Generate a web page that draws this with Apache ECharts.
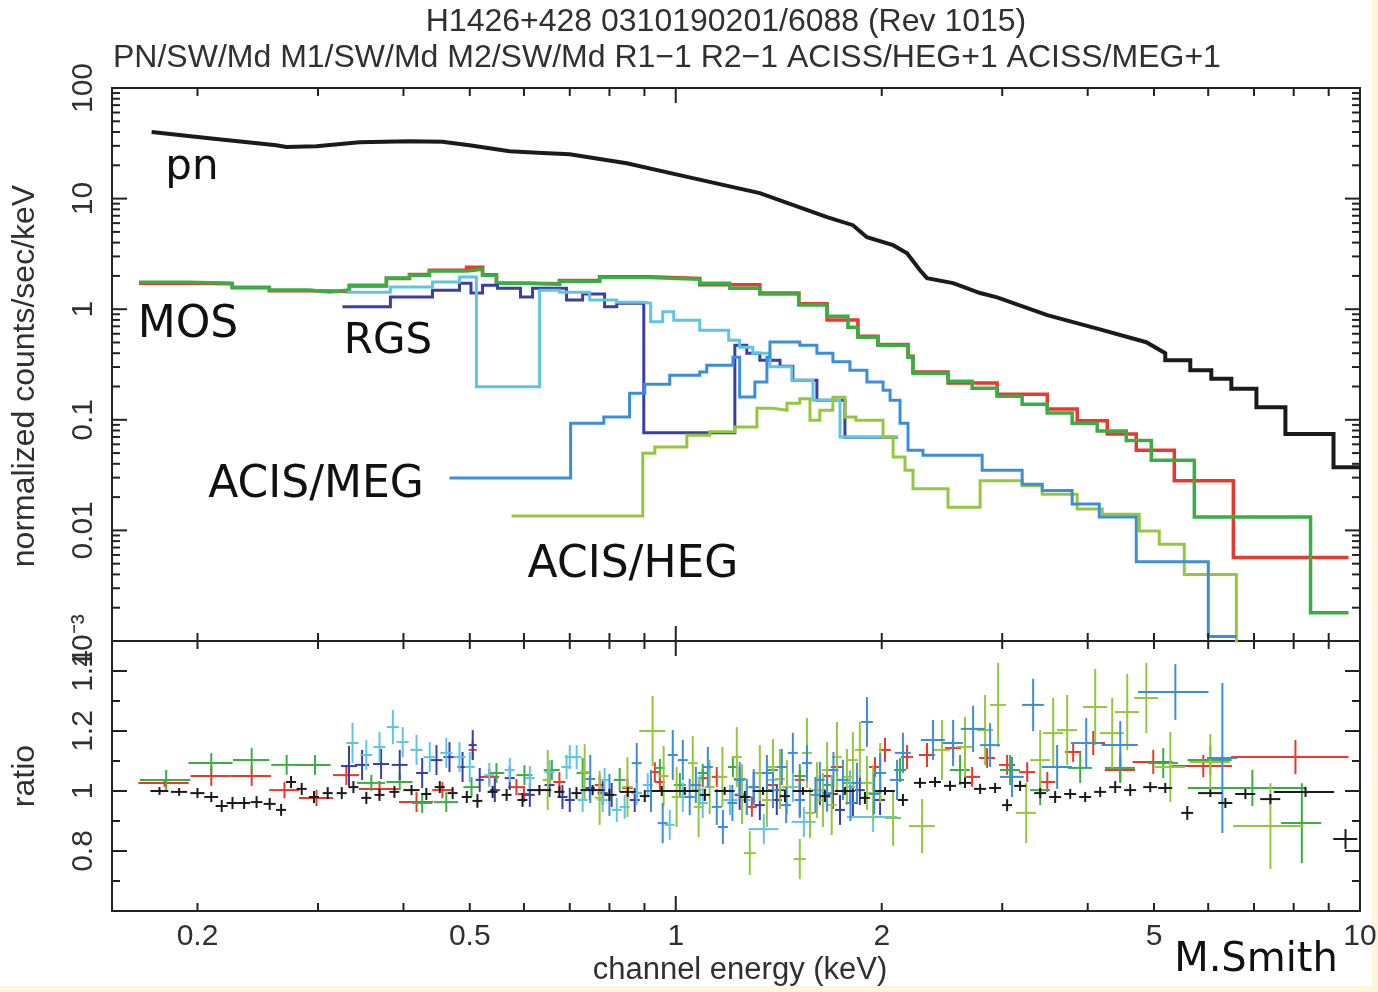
<!DOCTYPE html>
<html>
<head>
<meta charset="utf-8">
<title>H1426+428 spectra</title>
<script src="https://cdn.jsdelivr.net/npm/echarts@6.0.0/dist/echarts.min.js"></script>
<style>
html,body{margin:0;padding:0;background:#ffffff;}
#chart{width:1378px;height:992px;}
</style>
</head>
<body>
<div id="chart"></div>
<script>
// ---------------- tick values / labels ----------------
const xTickValues = [0.2,0.3,0.4,0.5,0.6,0.7,0.8,0.9,1,2,3,4,5,6,7,8,9,10];
const xMajorTicks = [1,10];
const xLabelValues = [0.2,0.5,1,2,5,10];
const xLabelTexts = ['0.2','0.5','1','2','5','10'];
const yTopMajor = [0.001,0.01,0.1,1,10,100];
const yTopMinor = [0.002,0.003,0.004,0.005,0.006,0.007,0.008,0.009,
  0.02,0.03,0.04,0.05,0.06,0.07,0.08,0.09,
  0.2,0.3,0.4,0.5,0.6,0.7,0.8,0.9,
  2,3,4,5,6,7,8,9,
  20,30,40,50,60,70,80,90];
const yTopLabelTexts = ['10\u207B\u00B3','0.01','0.1','1','10','100'];
const ratioMajor = [0.8,1,1.2,1.4];
const ratioMinor = [0.7,0.9,1.1,1.3];
const ratioLabelTexts = ['0.8','1','1.2','1.4'];

// ---------------- top panel: spectra (keV, counts/s/keV) ----------------
// pn: finely binned part (points) + coarse tail (bin edges / values)
const pnE = [0.1714,0.208,0.2607,0.2697,0.2985,0.3449,0.408,0.456,0.4995,0.5716,0.639,0.6995,0.848,1.059,1.327,1.664,1.815,1.903,2.078,2.178,2.275,2.329,2.543,2.785,2.949,3.491,4.13,4.872,5.193];
const pnV = [40.1,35.2,30.4,29.3,29.8,32.4,33.0,32.6,30.4,26.8,25.9,25.2,20.9,15.3,11.2,6.79,5.75,4.48,3.79,3.21,2.25,1.91,1.72,1.40,1.28,0.883,0.667,0.503,0.40];
const pnTailEdges = [5.193,5.649,6.063,6.486,7.057,7.78,9.147,10.0];
const pnTailV = [0.346,0.281,0.235,0.191,0.130,0.0746,0.0373];

const mos1Edges = [0.1643,0.1945,0.2248,0.2547,0.2914,0.3334,0.3777,0.4082,0.4365,0.4945,0.522,0.547,0.605,0.6763,0.774,0.916,1.084,1.327,1.513,1.664,1.846,1.975,2.185,2.222,2.50,2.949,3.491,3.861,4.272,4.710,5.353,6.53,9.621];
const mos1V = [1.72,1.70,1.56,1.47,1.45,1.62,1.89,2.06,2.25,2.40,2.05,1.72,1.70,1.82,1.97,1.90,1.66,1.40,1.12,0.80,0.57,0.48,0.375,0.27,0.215,0.17,0.125,0.098,0.0746,0.0531,0.0281,0.0057];

const mos2Edges = [0.1643,0.1945,0.2248,0.2547,0.2914,0.3117,0.3334,0.3777,0.4082,0.4365,0.4945,0.522,0.547,0.605,0.6763,0.774,0.916,1.084,1.1995,1.327,1.513,1.664,1.785,1.846,1.975,2.185,2.222,2.50,2.711,2.949,3.208,3.491,3.796,4.13,4.554,4.954,5.726,8.467,9.621];
const mos2V = [1.75,1.72,1.58,1.49,1.43,1.49,1.65,1.91,2.03,2.22,2.30,2.03,1.72,1.68,1.79,1.93,1.87,1.72,1.55,1.37,1.09,0.865,0.688,0.558,0.473,0.368,0.264,0.223,0.193,0.163,0.138,0.115,0.093,0.079,0.065,0.043,0.0132,0.0018];

const rgs1Edges = [0.3257,0.3828,0.441,0.483,0.502,0.522,0.549,0.593,0.6176,0.6925,0.731,0.787,0.820,0.898,1.220,1.270,1.327,1.420,1.483,1.608,1.767,2.113];
const rgs1V = [1.05,1.29,1.485,1.72,1.40,1.65,1.55,1.29,1.55,1.21,1.37,1.05,1.13,0.0764,0.473,0.40,0.346,0.305,0.228,0.15,0.0696];

const rgs2Edges = [0.3311,0.3828,0.441,0.483,0.5113,0.6324,0.6763,0.7485,0.820,0.898,0.919,0.957,0.9933,1.084,1.195,1.240,1.296,1.373,1.478,1.587,1.738,2.113];
const rgs2V = [1.42,1.59,1.765,1.96,0.199,1.485,1.42,1.21,1.157,1.13,0.769,0.95,0.795,0.646,0.525,0.453,0.40,0.301,0.228,0.150,0.070];

const hegEdges = [0.5755,0.895,0.932,1.038,1.121,1.220,1.314,1.387,1.454,1.518,1.571,1.624,1.697,1.767,1.834,2.009,2.078,2.163,2.222,2.50,2.785,3.208,3.432,3.861,4.201,4.758,5.089,5.536,6.597,8.18];
const hegV = [0.0135,0.0499,0.0569,0.0726,0.0778,0.0863,0.127,0.122,0.141,0.155,0.099,0.122,0.160,0.106,0.099,0.070,0.0462,0.035,0.0238,0.0162,0.0281,0.0254,0.0212,0.0156,0.0140,0.0099,0.0075,0.0040,0.0008];

const megEdges = [0.467,0.702,0.785,0.856,0.901,0.980,1.084,1.110,1.212,1.240,1.305,1.359,1.373,1.518,1.608,1.697,1.797,1.903,2.009,2.057,2.127,2.185,2.298,2.804,3.208,3.432,3.796,4.159,4.710,6.002,6.597];
const megV = [0.0298,0.0931,0.106,0.174,0.210,0.253,0.27,0.312,0.368,0.161,0.220,0.368,0.506,0.473,0.40,0.334,0.281,0.220,0.185,0.150,0.0931,0.0531,0.0479,0.035,0.0262,0.0229,0.0173,0.0132,0.0052,0.0011];

// ---------------- bottom panel: ratio points [E, dE, ratio, dRatio] ----------------
const pnRatio = [
[0.176,0.0053,1.000,0.013],[0.188,0.0051,0.997,0.013],[0.200,0.0047,0.993,0.017],[0.2095,0.0049,0.980,0.017],[0.217,0.0044,0.950,0.02],[0.225,0.0045,0.960,0.02],[0.234,0.0047,0.960,0.02],[0.244,0.0049,0.963,0.02],[0.255,0.0052,0.957,0.02],[0.265,0.0045,0.937,0.02],[0.274,0.0046,1.030,0.02],[0.284,0.0048,1.007,0.02],[0.296,0.0050,0.980,0.02],[0.310,0.0052,0.993,0.02],[0.325,0.0055,0.993,0.02],[0.338,0.0057,1.013,0.02],[0.353,0.0059,0.977,0.02],[0.369,0.0062,0.987,0.02],[0.388,0.0065,0.997,0.02],[0.411,0.0111,1.003,0.017],[0.432,0.0073,0.990,0.02],[0.452,0.0076,1.013,0.02],[0.472,0.0079,0.993,0.02],[0.495,0.0083,0.980,0.02],[0.513,0.0086,0.967,0.023],[0.540,0.0091,0.997,0.02],[0.566,0.0095,0.987,0.02],[0.597,0.010,0.970,0.023],[0.632,0.0256,1.003,0.017],[0.676,0.0114,0.997,0.02],[0.716,0.0121,0.993,0.02],[0.756,0.0306,1.003,0.017],[0.800,0.0135,0.987,0.02],[0.851,0.0229,0.997,0.017],[0.901,0.0152,0.983,0.02],[0.954,0.0321,1.000,0.017],[1.031,0.0486,1.000,0.013],[1.103,0.0186,0.987,0.02],[1.179,0.0397,1.000,0.013],[1.262,0.0213,0.980,0.02],[1.341,0.0452,1.000,0.013],[1.444,0.0243,0.983,0.02],[1.534,0.0517,1.000,0.013],[1.652,0.0278,0.983,0.02],[1.767,0.0595,1.000,0.013],[1.890,0.0318,0.977,0.02],[2.022,0.0681,1.000,0.013],[2.148,0.0362,0.970,0.02],[2.275,0.046,1.027,0.017],[2.393,0.0484,1.030,0.017],[2.517,0.0509,1.017,0.017],[2.647,0.0535,1.027,0.017],[2.785,0.0563,1.007,0.017],[2.929,0.0592,1.010,0.017],[3.050,0.0514,0.953,0.02],[3.186,0.0644,1.017,0.017],[3.409,0.0689,0.993,0.017],[3.585,0.0725,0.980,0.02],[3.771,0.0763,0.990,0.017],[3.966,0.0802,0.980,0.017],[4.172,0.0844,0.997,0.017],[4.388,0.0887,1.013,0.02],[4.615,0.0933,1.003,0.02],[4.937,0.116,1.013,0.017],[5.193,0.1225,1.010,0.017],[5.592,0.113,0.927,0.023],[6.043,0.244,0.993,0.013],[6.357,0.150,0.960,0.017],[6.800,0.229,0.990,0.017],[7.397,0.249,0.973,0.017],[8.325,0.842,0.997,0.017],[9.524,0.385,0.840,0.033]
];
const mos1Ratio = [
[0.179,0.0151,1.027,0.013],[0.2095,0.0141,1.050,0.033],[0.240,0.0162,1.050,0.033],[0.268,0.0135,1.003,0.027],[0.2985,0.0171,0.977,0.027],[0.330,0.0145,1.053,0.033],[0.369,0.0249,1.007,0.027],[0.418,0.0239,0.963,0.033],[0.456,0.0154,1.003,0.027],[0.505,0.0068,1.137,0.033],[0.534,0.018,1.047,0.027],[0.585,0.0158,1.013,0.027],[0.600,0.012,0.990,0.027],[0.676,0.0137,1.030,0.033],[0.774,0.013,1.020,0.033],[0.850,0.015,1.010,0.03],[0.932,0.0157,1.063,0.033],[0.948,0.016,1.030,0.03],[1.095,0.0185,1.043,0.03],[1.148,0.0193,1.047,0.033],[1.292,0.0218,0.947,0.033],[1.387,0.0234,1.020,0.03],[1.518,0.0256,1.037,0.033],[1.664,0.028,1.050,0.033],[1.720,0.0348,1.080,0.033],[1.955,0.0395,1.080,0.033],[2.022,0.0409,1.137,0.04],[2.178,0.044,1.113,0.04],[2.329,0.0628,1.120,0.04],[2.543,0.0686,1.143,0.033],[2.711,0.0731,1.047,0.033],[2.851,0.0769,1.110,0.033],[3.050,0.0822,1.087,0.033],[3.263,0.088,1.063,0.033],[3.491,0.0941,1.030,0.033],[3.809,0.1027,1.130,0.033],[4.075,0.165,1.160,0.04],[4.463,0.226,1.070,0.04],[4.987,0.336,1.097,0.04],[5.902,0.597,1.083,0.037],[8.047,1.573,1.113,0.057]
];
const mos2Ratio = [
[0.180,0.0152,1.037,0.033],[0.2095,0.0155,1.093,0.033],[0.240,0.0146,1.103,0.040],[0.270,0.0136,1.087,0.033],[0.297,0.016,1.087,0.033],[0.359,0.0169,1.027,0.027],[0.395,0.0173,1.030,0.027],[0.426,0.0144,0.960,0.033],[0.462,0.0187,0.963,0.033],[0.503,0.0136,1.013,0.033],[0.547,0.0147,1.060,0.033],[0.601,0.0162,1.053,0.033],[0.659,0.0178,1.070,0.033],[0.731,0.0148,1.060,0.05],[0.828,0.0167,1.037,0.04],[0.877,0.015,0.993,0.03],[0.948,0.016,1.077,0.03],[1.014,0.0205,1.020,0.04],[1.095,0.0185,1.060,0.03],[1.212,0.02,1.080,0.033],[1.240,0.0251,1.040,0.04],[1.387,0.0234,1.070,0.033],[1.518,0.0307,1.050,0.04],[1.664,0.028,1.020,0.033],[1.797,0.0363,1.027,0.04],[2.127,0.043,1.070,0.04],[2.603,0.0877,1.070,0.05],[3.081,0.104,1.070,0.05],[3.409,0.115,1.003,0.05],[3.900,0.158,1.077,0.05],[4.463,0.226,1.077,0.05],[5.158,0.261,1.093,0.05],[6.043,0.448,1.103,0.05],[6.962,1.361,1.010,0.06],[8.222,0.554,0.893,0.133]
];
const rgs1Ratio = [
[0.333,0.009,1.083,0.067],[0.348,0.0082,1.087,0.05],[0.371,0.010,1.090,0.05],[0.395,0.0106,1.087,0.05],[0.426,0.0086,1.060,0.05],[0.447,0.009,1.103,0.05],[0.467,0.0094,1.113,0.05],[0.488,0.0082,1.080,0.05],[0.505,0.0068,1.153,0.05],[0.517,0.007,1.037,0.04],[0.544,0.0092,1.003,0.04],[0.572,0.0096,1.043,0.04],[0.612,0.0103,0.987,0.04],[0.654,0.011,1.020,0.04],[0.683,0.0115,0.980,0.04],[0.700,0.0118,0.970,0.04],[0.749,0.0126,1.010,0.04],[0.782,0.0132,0.993,0.04],[0.806,0.0136,0.987,0.04],[0.871,0.0147,0.970,0.04],[1.240,0.0209,0.987,0.05],[1.300,0.022,1.013,0.05],[1.327,0.0224,0.953,0.05],[1.405,0.0237,0.970,0.05],[1.420,0.0239,1.003,0.05],[1.518,0.0256,0.970,0.05],[1.624,0.0274,1.003,0.05],[1.697,0.0286,0.990,0.05],[1.738,0.0293,0.937,0.05],[1.815,0.0306,0.960,0.05],[1.858,0.0313,1.003,0.05],[1.989,0.0335,0.970,0.05]
];
const rgs2Ratio = [
[0.337,0.0068,1.160,0.067],[0.353,0.0071,1.120,0.05],[0.369,0.0075,1.147,0.05],[0.386,0.0078,1.213,0.057],[0.399,0.0081,1.163,0.05],[0.418,0.0085,1.137,0.05],[0.437,0.0088,1.113,0.05],[0.462,0.0093,1.127,0.05],[0.483,0.0098,1.113,0.05],[0.500,0.0084,1.080,0.05],[0.534,0.009,1.053,0.04],[0.572,0.0096,1.070,0.04],[0.612,0.0103,1.043,0.04],[0.654,0.011,1.063,0.04],[0.6925,0.0117,1.080,0.04],[0.700,0.0118,1.113,0.04],[0.7164,0.0121,1.113,0.04],[0.731,0.0123,0.970,0.04],[0.7819,0.0132,0.970,0.04],[0.787,0.0133,1.037,0.04],[0.820,0.0138,0.937,0.04],[0.842,0.0142,0.947,0.04],[0.877,0.0148,0.993,0.04],[0.910,0.0153,1.020,0.04],[0.980,0.0165,0.887,0.05],[1.024,0.0172,0.980,0.05],[1.084,0.0219,1.003,0.05],[1.095,0.0185,0.960,0.05],[1.200,0.0323,0.970,0.05],[1.270,0.0214,0.970,0.05],[1.345,0.068,0.873,0.05],[1.387,0.0234,1.037,0.05],[1.483,0.025,1.013,0.05],[1.539,0.0622,0.897,0.05],[1.664,0.028,0.980,0.05],[1.797,0.0303,1.013,0.05],[1.943,0.164,0.913,0.05]
];
const hegRatio = [
[0.650,0.011,1.037,0.1],[0.736,0.0124,1.063,0.093],[0.774,0.013,0.977,0.09],[0.850,0.0143,1.013,0.1],[0.925,0.0405,1.200,0.117],[0.960,0.0162,1.050,0.1],[1.003,0.0169,0.980,0.1],[1.059,0.0178,1.093,0.09],[1.080,0.018,0.947,0.1],[1.121,0.0189,1.013,0.09],[1.170,0.0197,1.047,0.1],[1.228,0.0207,1.113,0.10],[1.250,0.021,0.990,0.1],[1.283,0.0259,0.793,0.073],[1.327,0.0224,1.060,0.093],[1.359,0.0229,0.970,0.09],[1.387,0.0234,1.080,0.093],[1.420,0.024,1.040,0.1],[1.454,0.0245,1.013,0.09],[1.518,0.0307,0.773,0.067],[1.555,0.0262,1.127,0.117],[1.571,0.0265,0.927,0.083],[1.608,0.0271,1.003,0.093],[1.641,0.0277,0.970,0.09],[1.664,0.028,1.070,0.093],[1.690,0.0285,0.953,0.1],[1.720,0.029,1.113,0.117],[1.779,0.030,1.047,0.093],[1.815,0.0306,1.103,0.093],[1.858,0.0313,1.137,0.093],[1.903,0.032,1.027,0.09],[1.943,0.0393,0.993,0.093],[1.990,0.0335,1.060,0.1],[2.078,0.056,0.910,0.093],[2.291,0.100,0.883,0.09],[2.450,0.066,1.137,0.10],[2.647,0.0714,1.147,0.10],[2.832,0.0764,1.203,0.117],[2.959,0.0798,1.287,0.14],[3.252,0.110,0.927,0.10],[3.409,0.115,1.103,0.10],[3.561,0.120,1.193,0.117],[3.733,0.126,1.203,0.117],[4.102,0.166,1.280,0.127],[4.344,0.176,1.193,0.117],[4.569,0.185,1.263,0.127],[4.872,0.197,1.310,0.117],[5.282,0.267,1.080,0.117],[6.043,0.407,1.097,0.093],[7.397,0.872,0.883,0.143]
];
const megRatio = [
[0.750,0.0126,1.040,0.08],[0.800,0.0135,0.987,0.07],[0.877,0.0148,1.093,0.067],[0.920,0.0155,1.000,0.07],[0.957,0.0161,0.893,0.067],[0.990,0.0167,1.120,0.083],[1.024,0.0173,1.103,0.067],[1.048,0.0177,0.980,0.06],[1.070,0.018,1.020,0.06],[1.114,0.0188,1.080,0.067],[1.148,0.0193,0.947,0.06],[1.172,0.0197,0.880,0.057],[1.210,0.02,0.960,0.06],[1.240,0.0209,1.037,0.06],[1.270,0.0214,0.980,0.06],[1.300,0.022,1.013,0.06],[1.359,0.0229,1.060,0.06],[1.387,0.0234,1.003,0.06],[1.429,0.0241,1.080,0.06],[1.450,0.0245,0.953,0.06],[1.483,0.025,1.127,0.067],[1.518,0.0256,0.970,0.06],[1.555,0.0262,1.093,0.06],[1.600,0.027,0.987,0.06],[1.624,0.0274,1.037,0.06],[1.664,0.028,0.993,0.06],[1.700,0.0287,1.070,0.06],[1.755,0.0355,1.037,0.067],[1.800,0.03,0.960,0.06],[1.840,0.031,1.027,0.067],[1.903,0.0385,1.230,0.083],[1.950,0.033,0.990,0.067],[1.989,0.0402,1.060,0.067],[2.106,0.0497,1.037,0.067],[2.148,0.0579,1.127,0.067],[2.377,0.0961,1.170,0.067],[2.543,0.0857,1.160,0.077],[2.720,0.110,1.207,0.077],[2.880,0.097,1.153,0.073],[3.101,0.125,1.047,0.067],[3.329,0.123,1.287,0.087],[3.609,0.182,1.080,0.073],[3.980,0.201,1.160,0.083],[4.463,0.271,1.153,0.08],[5.372,0.634,1.330,0.093],[6.293,0.318,1.110,0.25]
];

// ---------------- colours / fonts ----------------
const C_PN='#1b1b1b', C_M1='#e8392f', C_M2='#3aad45', C_R1='#3a3fa6', C_R2='#62c4e4', C_HEG='#95c73e', C_MEG='#3d8ed8';
const TXT='#303030';
const SANS='"Liberation Sans", Arial, Helvetica, sans-serif';
const HAND='"Comic Sans MS", "DejaVu Sans", sans-serif';

function steps(edges, vals){
  const out=[];
  for(let i=0;i<vals.length;i++){ out.push([edges[i],vals[i]]); out.push([edges[i+1],vals[i]]); }
  return out;
}
const pnLine = pnE.map((e,i)=>[e,pnV[i]]).concat(steps(pnTailEdges,pnTailV));

function lineSeries(name,data,color,width,z){
  return {name,type:'line',xAxisIndex:0,yAxisIndex:0,data,showSymbol:false,symbol:'none',
    lineStyle:{color,width,join:'miter'},itemStyle:{color},animation:false,silent:true,clip:true,z:z||2};
}
function crossSeries(name,data,color,width,z){
  return {name,type:'custom',xAxisIndex:1,yAxisIndex:1,data,encode:{x:0,y:2},animation:false,silent:true,z:z||3,
    renderItem:function(params,api){
      const E=api.value(0),dE=api.value(1),r=api.value(2),dr=api.value(3);
      const a=api.coord([E-dE,r]),b=api.coord([E+dE,r]),c=api.coord([E,r-dr]),d=api.coord([E,r+dr]);
      const st={stroke:color,lineWidth:width};
      return {type:'group',children:[
        {type:'line',shape:{x1:a[0],y1:a[1],x2:b[0],y2:b[1]},style:st},
        {type:'line',shape:{x1:c[0],y1:c[1],x2:d[0],y2:d[1]},style:st}]};
    }};
}
const tickStyle={stroke:'#222',lineWidth:2};
function xTickSeries(idx,yRef){
  return {type:'custom',xAxisIndex:idx,yAxisIndex:idx,silent:true,animation:false,z:6,
    data:xTickValues.map(v=>[v,yRef,xMajorTicks.indexOf(v)>=0?1:0]),encode:{x:0,y:1},
    renderItem:function(params,api){
      const p=api.coord([api.value(0),api.value(1)]);const cs=params.coordSys;
      const len=api.value(2)?15:8;const t=cs.y,b=cs.y+cs.height;
      return {type:'group',children:[
        {type:'line',shape:{x1:p[0],y1:b,x2:p[0],y2:b-len},style:tickStyle},
        {type:'line',shape:{x1:p[0],y1:t,x2:p[0],y2:t+len},style:tickStyle}]};
    }};
}
function yTickSeries(idx,xRef,vals,major){
  return {type:'custom',xAxisIndex:idx,yAxisIndex:idx,silent:true,animation:false,z:6,
    data:vals.map(v=>[xRef,v]),encode:{x:0,y:1},
    renderItem:function(params,api){
      const p=api.coord([api.value(0),api.value(1)]);const cs=params.coordSys;
      const len=major?15:8;const l=cs.x,r=cs.x+cs.width;
      return {type:'group',children:[
        {type:'line',shape:{x1:l,y1:p[1],x2:l+len,y2:p[1]},style:tickStyle},
        {type:'line',shape:{x1:r,y1:p[1],x2:r-len,y2:p[1]},style:tickStyle}]};
    }};
}
function yLabelSeries(idx,xRef,vals,texts){
  return {type:'custom',xAxisIndex:idx,yAxisIndex:idx,silent:true,animation:false,z:6,
    data:vals.map(v=>[xRef,v]),encode:{x:0,y:1},
    renderItem:function(params,api){
      const p=api.coord([api.value(0),api.value(1)]);const cs=params.coordSys;
      return {type:'text',x:cs.x-28,y:p[1],rotation:Math.PI/2,
        style:{text:texts[params.dataIndex],font:'30px '+SANS,fill:TXT,align:'center',verticalAlign:'middle'}};
    }};
}
const xLabelSeries={type:'custom',xAxisIndex:1,yAxisIndex:1,silent:true,animation:false,z:6,
  data:xLabelValues.map(v=>[v,1]),encode:{x:0,y:1},
  renderItem:function(params,api){
    const p=api.coord([api.value(0),api.value(1)]);const cs=params.coordSys;
    return {type:'text',x:p[0],y:cs.y+cs.height+26,
      style:{text:xLabelTexts[params.dataIndex],font:'30px '+SANS,fill:TXT,align:'center',verticalAlign:'middle'}};
  }};

const hidden={axisLine:{show:false},axisTick:{show:false},axisLabel:{show:false},splitLine:{show:false}};
const option={
  backgroundColor:'#ffffff',
  animation:false,
  grid:[
    {left:112,right:18,top:88,height:553,show:true,borderColor:'#222',borderWidth:2,backgroundColor:'transparent'},
    {left:112,right:18,top:641,height:270,show:true,borderColor:'#222',borderWidth:2,backgroundColor:'transparent'}
  ],
  xAxis:[
    Object.assign({type:'log',logBase:10,min:0.15,max:10,gridIndex:0},hidden),
    Object.assign({type:'log',logBase:10,min:0.15,max:10,gridIndex:1},hidden)
  ],
  yAxis:[
    Object.assign({type:'log',logBase:10,min:0.001,max:100,gridIndex:0},hidden),
    Object.assign({type:'value',min:0.6,max:1.5,gridIndex:1},hidden)
  ],
  series:[
    lineSeries('MOS1',steps(mos1Edges,mos1V),C_M1,3.5,2),
    lineSeries('MOS2',steps(mos2Edges,mos2V),C_M2,3.5,2),
    lineSeries('RGS1',steps(rgs1Edges,rgs1V),C_R1,3,2),
    lineSeries('RGS2',steps(rgs2Edges,rgs2V),C_R2,3,2),
    lineSeries('HEG',steps(hegEdges,hegV),C_HEG,3,2),
    lineSeries('MEG',steps(megEdges,megV),C_MEG,3,2),
    lineSeries('pn',pnLine,C_PN,4,2),
    crossSeries('MOS1 ratio',mos1Ratio,C_M1,2,3),
    crossSeries('MOS2 ratio',mos2Ratio,C_M2,2,3),
    crossSeries('RGS1 ratio',rgs1Ratio,C_R1,2,3),
    crossSeries('RGS2 ratio',rgs2Ratio,C_R2,2,3),
    crossSeries('HEG ratio',hegRatio,C_HEG,2,3),
    crossSeries('MEG ratio',megRatio,C_MEG,2,3),
    crossSeries('pn ratio',pnRatio,C_PN,2,4),
    xTickSeries(0,1),
    xTickSeries(1,1),
    yTickSeries(0,1,yTopMajor,true),
    yTickSeries(0,1,yTopMinor,false),
    yTickSeries(1,1,ratioMajor,true),
    yTickSeries(1,1,ratioMinor,false),
    yLabelSeries(0,1,yTopMajor,yTopLabelTexts),
    yLabelSeries(1,1,ratioMajor,ratioLabelTexts),
    xLabelSeries
  ],
  graphic:[
    {type:'text',x:726,y:22,style:{text:'H1426+428 0310190201/6088 (Rev 1015)',font:'32px '+SANS,fill:TXT,align:'center',verticalAlign:'middle'}},
    {type:'text',x:113,y:58,style:{text:'PN/SW/Md M1/SW/Md M2/SW/Md R1\u22121 R2\u22121 ACISS/HEG+1 ACISS/MEG+1',font:'32px '+SANS,fill:TXT,align:'left',verticalAlign:'middle'}},
    {type:'text',x:25,y:376,rotation:Math.PI/2,style:{text:'normalized counts/sec/keV',font:'32px '+SANS,fill:TXT,align:'center',verticalAlign:'middle'}},
    {type:'text',x:25,y:776,rotation:Math.PI/2,style:{text:'ratio',font:'32px '+SANS,fill:TXT,align:'center',verticalAlign:'middle'}},
    {type:'text',x:740,y:970,style:{text:'channel energy (keV)',font:'31px '+SANS,fill:TXT,align:'center',verticalAlign:'middle'}},
    {type:'text',x:192,y:168,style:{text:'pn',font:'42px '+HAND,fill:'#111',align:'center',verticalAlign:'middle'}},
    {type:'text',x:188,y:326,style:{text:'MOS',font:'44px '+HAND,fill:'#111',align:'center',verticalAlign:'middle'}},
    {type:'text',x:388,y:342,style:{text:'RGS',font:'42px '+HAND,fill:'#111',align:'center',verticalAlign:'middle'}},
    {type:'text',x:316,y:486,style:{text:'ACIS/MEG',font:'44px '+HAND,fill:'#111',align:'center',verticalAlign:'middle'}},
    {type:'text',x:633,y:566,style:{text:'ACIS/HEG',font:'44px '+HAND,fill:'#111',align:'center',verticalAlign:'middle'}},
    {type:'text',x:1256,y:961,style:{text:'M.Smith',font:'40px '+HAND,fill:'#111',align:'center',verticalAlign:'middle'}},
    {type:'rect',shape:{x:0,y:986,width:1378,height:6},style:{fill:'#fbf6dc'},silent:true},
    {type:'rect',shape:{x:1372,y:0,width:6,height:992},style:{fill:'#fbf6dc'},silent:true}
  ]
};
const chart=echarts.init(document.getElementById('chart'),null,{renderer:'canvas'});
chart.setOption(option);
</script>
</body>
</html>
